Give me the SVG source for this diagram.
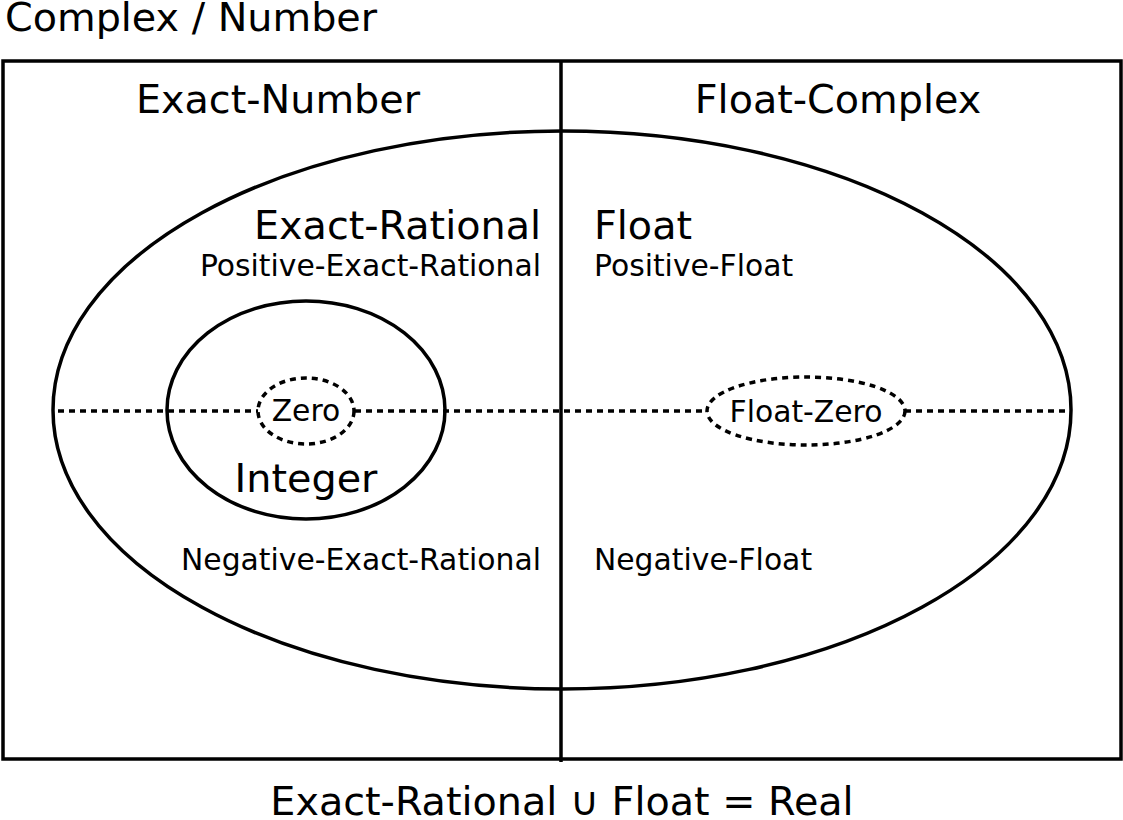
<svg xmlns="http://www.w3.org/2000/svg" width="1123" height="820" viewBox="0 0 1123 820">
<style>
.s{fill:none;stroke:#000;stroke-width:3.5}
.d{stroke:#000;stroke-width:3.5;stroke-dasharray:6,5}
.w{fill:#fff}
text{font-family:"DejaVu Sans",sans-serif;fill:#000}
.b{font-size:39.7px}.m{font-size:29.8px}
</style>
<rect width="1123" height="820" fill="#fff"/>
<g id="frame"><rect class="s" x="3" y="61" width="1118" height="698"/></g>
<g id="connectors"><line class="d" x1="58" y1="411" x2="1068" y2="411"/><line class="s" x1="561" y1="61" x2="561" y2="762"/></g>
<g id="real"><ellipse class="s" cx="562" cy="410" rx="509" ry="279"/></g>
<g id="integer"><ellipse class="s" cx="306" cy="410" rx="139" ry="109"/></g>
<g id="zero"><ellipse class="d w" cx="306" cy="411" rx="48" ry="33"/><text class="m" x="306" y="421" text-anchor="middle">Zero</text></g>
<g id="floatzero"><ellipse class="d w" cx="806" cy="411" rx="99" ry="34"/><text class="m" x="806" y="422" text-anchor="middle">Float-Zero</text></g>
<g id="labels">
<text class="b" x="5" y="31">Complex / Number</text>
<text class="b" x="278" y="113" text-anchor="middle">Exact-Number</text>
<text class="b" x="838" y="113" text-anchor="middle">Float-Complex</text>
<text class="b" x="541" y="239" text-anchor="end">Exact-Rational</text>
<text class="m" x="541" y="276" text-anchor="end">Positive-Exact-Rational</text>
<text class="b" x="594" y="239">Float</text>
<text class="m" x="594" y="276">Positive-Float</text>
<text class="b" x="306" y="492" text-anchor="middle">Integer</text>
<text class="m" x="541" y="570" text-anchor="end">Negative-Exact-Rational</text>
<text class="m" x="594" y="570">Negative-Float</text>
<text class="b" x="562" y="815" text-anchor="middle">Exact-Rational ∪ Float = Real</text>
</g>
</svg>
